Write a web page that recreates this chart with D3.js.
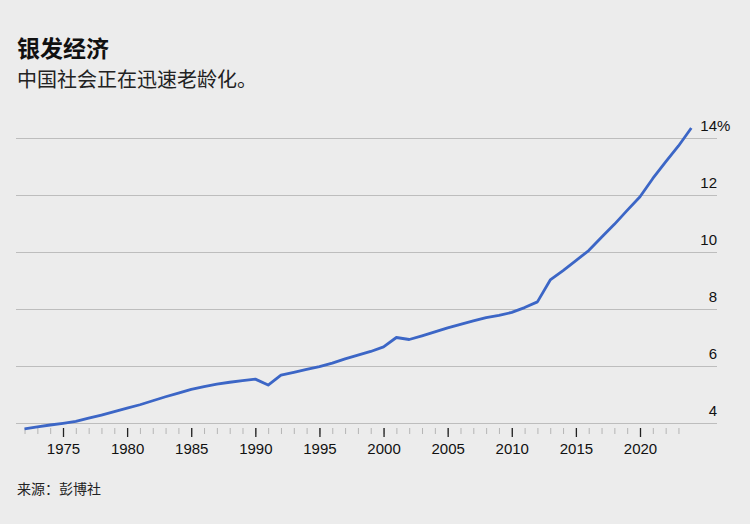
<!DOCTYPE html>
<html>
<head>
<meta charset="utf-8">
<script src="https://cdn.jsdelivr.net/npm/d3@7"></script>
<style>
  body { margin: 0; background: #ececec; }
  svg { display: block; }
  .title { font: bold 23px "Noto Sans CJK SC", sans-serif; fill: #111; }
  .subtitle { font: 20px "Noto Sans CJK SC", sans-serif; fill: #222; }
  .source { font: 14px "Noto Sans CJK SC", sans-serif; fill: #222; }
  .tick text { font: 15px "Liberation Sans", Arial, sans-serif; fill: #111; }
</style>
</head>
<body>
<svg id="chart" width="750" height="524"></svg>
<script>
const years = d3.range(1972, 2025);
const share65 = [
  3.79, 3.86, 3.93, 3.99, 4.06, 4.17, 4.28, 4.40, 4.52, 4.64,
  4.78, 4.92, 5.05, 5.18, 5.28, 5.36, 5.43, 5.49, 5.54, 5.33,
  5.68, 5.78, 5.88, 5.98, 6.10, 6.25, 6.38, 6.51, 6.67, 7.00,
  6.93, 7.06, 7.20, 7.34, 7.46, 7.58, 7.70, 7.78, 7.88, 8.05,
  8.25, 9.02, 9.35, 9.70, 10.05, 10.52, 10.97, 11.46, 11.94, 12.58,
  13.16, 13.72, 14.35
];
const yTicks = [4, 6, 8, 10, 12, 14];
const xTicks = [1975, 1980, 1985, 1990, 1995, 2000, 2005, 2010, 2015, 2020];
const minorYears = d3.range(1972, 2024);

const data = years.map((y, i) => ({ year: y, value: share65[i] }));

const svg = d3.select('#chart');

const x = d3.scaleLinear().domain([1975, 2020]).range([63, 640]);
const y = d3.scaleLinear().domain([4, 14]).range([423, 138]);

const gridLeft = 16;
const gridRight = 717;

svg.append('text').attr('class', 'title').attr('x', 17).attr('y', 57).text('银发经济');
svg.append('text').attr('class', 'subtitle').attr('x', 17).attr('y', 87).text('中国社会正在迅速老龄化。');
svg.append('text').attr('class', 'source').attr('x', 17).attr('y', 494).text('来源：彭博社');

// horizontal gridlines and right-hand labels
const yAxis = svg.append('g')
  .attr('transform', `translate(${gridRight},0)`)
  .call(d3.axisLeft(y)
    .tickValues(yTicks)
    .tickSize(gridRight - gridLeft)
    .tickFormat((d) => d));
yAxis.select('.domain').remove();
yAxis.selectAll('.tick line').attr('stroke', '#bdbdbd').attr('stroke-width', 1.2);
yAxis.selectAll('.tick text')
  .attr('x', 0)
  .attr('dy', -8)
  .attr('text-anchor', 'end');
yAxis.selectAll('.tick')
  .filter((d) => d === 14)
  .append('text')
  .attr('x', 0)
  .attr('dy', -8)
  .attr('text-anchor', 'start')
  .text('%');

// minor year ticks
svg.append('g')
  .attr('transform', 'translate(0,428)')
  .call(d3.axisBottom(x).tickValues(minorYears).tickSize(6).tickFormat(''))
  .call((g) => g.select('.domain').remove())
  .call((g) => g.selectAll('.tick line').attr('stroke', '#b5b5b5'));

// major year ticks
svg.append('g')
  .attr('transform', 'translate(0,428)')
  .call(d3.axisBottom(x).tickValues(xTicks).tickSize(9).tickPadding(6).tickFormat(d3.format('d')))
  .call((g) => g.select('.domain').remove())
  .call((g) => g.selectAll('.tick line').attr('stroke', '#222').attr('stroke-width', 1.3));

const line = d3.line()
  .x((d) => x(d.year))
  .y((d) => y(d.value));

svg.append('path')
  .datum(data)
  .attr('fill', 'none')
  .attr('stroke', '#3c66c6')
  .attr('stroke-width', 2.8)
  .attr('stroke-linejoin', 'round')
  .attr('d', line);
</script>
</body>
</html>
